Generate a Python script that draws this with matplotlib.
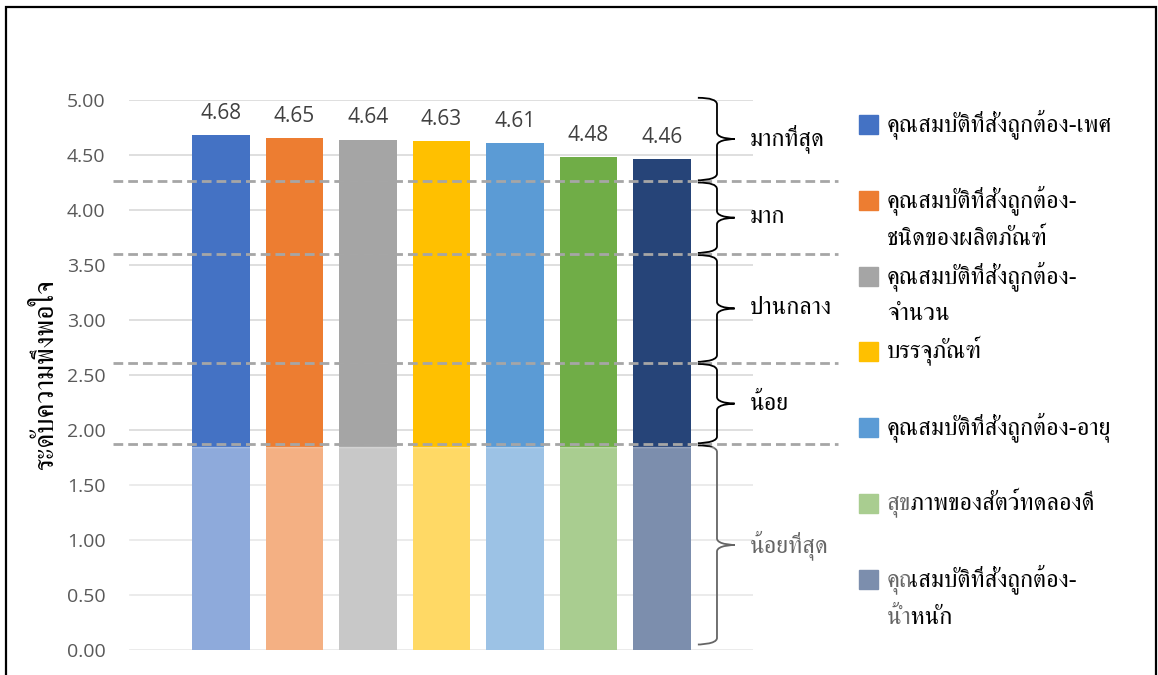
import matplotlib

matplotlib.use("Agg")
import matplotlib.patches as mpatches
import matplotlib.pyplot as plt
from matplotlib.path import Path

THAI = ["FreeSerif", "DejaVu Serif"]
NUM = ["Open Sans", "DejaVu Sans"]

series = [
    "คุณสมบัติที่สั่งถูกต้อง-เพศ",
    "คุณสมบัติที่สั่งถูกต้อง-\nชนิดของผลิตภัณฑ์",
    "คุณสมบัติที่สั่งถูกต้อง-\nจำนวน",
    "บรรจุภัณฑ์",
    "คุณสมบัติที่สั่งถูกต้อง-อายุ",
    "สุขภาพของสัตว์ทดลองดี",
    "คุณสมบัติที่สั่งถูกต้อง-\nน้ำหนัก",
]
scores = [4.68, 4.65, 4.64, 4.63, 4.61, 4.48, 4.46]
colors = ["#4472C4", "#ED7D31", "#A5A5A5", "#FFC000", "#5B9BD5", "#70AD47", "#264478"]

# interpretation bands (upper edge first) and their names
band_edges = [5.03, 4.26, 3.60, 2.61, 1.87, 0.04]
band_names = ["มากที่สุด", "มาก", "ปานกลาง", "น้อย", "น้อยที่สุด"]
cut_lines = [4.26, 3.60, 2.61, 1.87]

yticks = [0, 0.5, 1, 1.5, 2, 2.5, 3, 3.5, 4, 4.5, 5]

W, H = 1158, 675
fig = plt.figure(figsize=(W / 100, H / 100), dpi=100)
ax = fig.add_axes([129 / W, 1 - 650 / H, (753 - 129) / W, (650 - 100) / H])

x = list(range(len(scores)))
ax.bar(x, scores, width=0.78, color=colors, zorder=2)
for xi, v in zip(x, scores):
    ax.annotate(f"{v:.2f}", (xi, v), xytext=(0, 8), textcoords="offset points",
                ha="center", va="bottom", fontsize=15, color="#404040", family=NUM)

ax.set_xlim(-1.25, 7.24)
ax.set_ylim(0, 5)
ax.set_yticks(yticks)
ax.set_yticklabels([f"{t:.2f}" for t in yticks], family=NUM, fontsize=14, color="#595959")
ax.set_xticks([])
ax.tick_params(axis="y", length=0, pad=17)
ax.grid(axis="y", color="#D9D9D9", lw=1.2, zorder=0)
for s in ax.spines.values():
    s.set_visible(False)
ax.set_ylabel("ระดับความพึงพอใจ", family=THAI, fontsize=20, va="center")
ax.yaxis.set_label_coords(-0.133, 0.5)

# dashed cut-off lines run past both sides of the plot area
for c in cut_lines:
    ax.plot([-1.47, 8.39], [c, c], ls=(0, (3.5, 1.8)), color="#A6A6A6", lw=2,
            clip_on=False, zorder=3)


def brace(ax, y_top, y_bot, x0=6.49, x1=6.75, x2=6.99, r=0.06):
    ym = (y_top + y_bot) / 2
    verts = [
        (x0, y_top), (x1, y_top), (x1, y_top - r),
        (x1, ym + r),
        (x1, ym), (x2, ym), (x2, ym),
        (x2, ym), (x1, ym), (x1, ym - r),
        (x1, y_bot + r),
        (x1, y_bot), (x0, y_bot), (x0, y_bot),
    ]
    codes = [Path.MOVETO, Path.CURVE3, Path.CURVE3, Path.LINETO,
             Path.CURVE4, Path.CURVE4, Path.CURVE4,
             Path.CURVE4, Path.CURVE4, Path.CURVE4,
             Path.LINETO, Path.CURVE4, Path.CURVE4, Path.CURVE4]
    ax.add_patch(mpatches.PathPatch(Path(verts, codes), fill=False, lw=1.3,
                                    color="black", clip_on=False, zorder=4))
    return ym


for i, name in enumerate(band_names):
    ym = brace(ax, band_edges[i] - 0.01, band_edges[i + 1] + 0.01)
    ax.text(7.2, ym, name, ha="left", va="center", fontsize=17.5, family=THAI,
            clip_on=False)

# legend, laid out row by row on the right; wrapped lines hang below the swatch
for i, (lab, col) in enumerate(zip(series, colors)):
    yp = 124 + i * 75.8
    fig.add_artist(mpatches.Rectangle((859 / W, 1 - (yp + 10) / H), 19 / W, 19 / H,
                                      transform=fig.transFigure, color=col))
    for k, line in enumerate(lab.split("\n")):
        fig.text(887 / W, 1 - (yp + 39 * k) / H, line, ha="left", va="center",
                 fontsize=17.5, family=THAI)

# faded stamp over the lower part of the page
fig.add_artist(mpatches.Rectangle((129 / W, 0), 780 / W, (H - 447) / H,
                                  transform=fig.transFigure, color="white",
                                  alpha=0.4, zorder=10))

# page frame
fig.add_artist(mpatches.Rectangle((6 / W, -0.1), 1150 / W, 1.1 - 7 / H,
                                  transform=fig.transFigure, fill=False,
                                  lw=1.6, color="black"))

fig.savefig("out.png", dpi=100)
